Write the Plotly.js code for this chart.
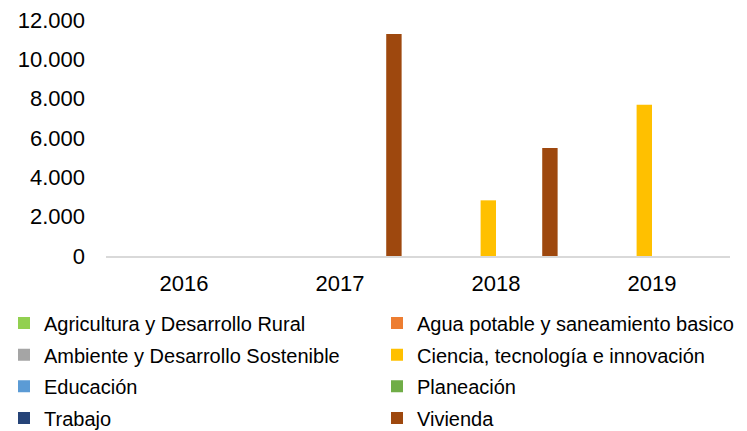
<!DOCTYPE html>
<html>
<head>
<meta charset="utf-8">
<script src="https://cdn.plot.ly/plotly-3.0.1.min.js"></script>
<style>html,body{margin:0;padding:0;background:#fff;}#chart{width:747px;height:431px;}</style>
</head>
<body>
<div id="chart"></div>
<script>
var years = ['2016', '2017', '2018', '2019'];
var seriesNames = [
  'Agricultura y Desarrollo Rural',
  'Agua potable y saneamiento basico',
  'Ambiente y Desarrollo Sostenible',
  'Ciencia, tecnología e innovación',
  'Educación',
  'Planeación',
  'Trabajo',
  'Vivienda'
];
var agricultura = [0, 0, 0, 0];
var agua = [0, 0, 0, 0];
var ambiente = [0, 0, 0, 0];
var ciencia = [0, 0, 2830, 7690];
var educacion = [0, 0, 0, 0];
var planeacion = [0, 0, 0, 0];
var trabajo = [0, 0, 0, 0];
var vivienda = [0, 11290, 5490, 0];
var yTicks = [0, 2000, 4000, 6000, 8000, 10000, 12000];

var values = [agricultura, agua, ambiente, ciencia, educacion, planeacion, trabajo, vivienda];
var colors = ['#92D050', '#ED7D31', '#A5A5A5', '#FFC000', '#5B9BD5', '#70AD47', '#264478', '#9E480E'];

var W = 747, H = 431;
var plotLeft = 106, plotRight = 730, plotTop = 20, plotBottom = 256;
var plotW = plotRight - plotLeft, plotH = plotBottom - plotTop;

var traces = seriesNames.map(function (n, i) {
  return {
    type: 'bar',
    name: n,
    x: years,
    y: values[i],
    marker: {color: colors[i]},
    legend: i === 0 ? 'legend' : 'legend' + (i + 1),
    hoverinfo: 'x+y+name'
  };
});

var colX = [4, 377];
var rowY = [323, 354.7, 386.3, 418];
function legendAt(px, py) {
  return {
    orientation: 'v',
    x: (px - plotLeft) / plotW, xanchor: 'left',
    y: (plotBottom - py) / plotH, yanchor: 'middle',
    bgcolor: 'rgba(0,0,0,0)',
    borderwidth: 0,
    font: {family: 'Liberation Sans, Arial, sans-serif', size: 20, color: '#000'},
    itemclick: false, itemdoubleclick: false
  };
}

var layout = {
  width: W, height: H,
  margin: {l: plotLeft, r: W - plotRight, t: plotTop, b: H - plotBottom, pad: 0, autoexpand: false},
  paper_bgcolor: '#fff', plot_bgcolor: '#fff',
  separators: ',.',
  font: {family: 'Liberation Sans, Arial, sans-serif', color: '#000'},
  barmode: 'group',
  bargap: 0.21,
  bargroupgap: 0,
  showlegend: true,
  xaxis: {
    type: 'category',
    showline: true, linecolor: '#d9d9d9', linewidth: 2,
    showgrid: false, zeroline: false, ticks: '',
    tickfont: {size: 22, color: '#000'},
    ticklabelstandoff: 7,
    automargin: false
  },
  yaxis: {
    range: [0, 12000],
    tickvals: yTicks,
    tickformat: ',d',
    showline: false, showgrid: false, zeroline: false, ticks: '',
    tickfont: {size: 22, color: '#000'},
    ticklabelstandoff: 20,
    automargin: false
  }
};
for (var i = 0; i < 8; i++) {
  var key = i === 0 ? 'legend' : 'legend' + (i + 1);
  layout[key] = legendAt(colX[i % 2], rowY[Math.floor(i / 2)]);
}

Plotly.newPlot('chart', traces, layout, {displayModeBar: false, staticPlot: true});
</script>
</body>
</html>
